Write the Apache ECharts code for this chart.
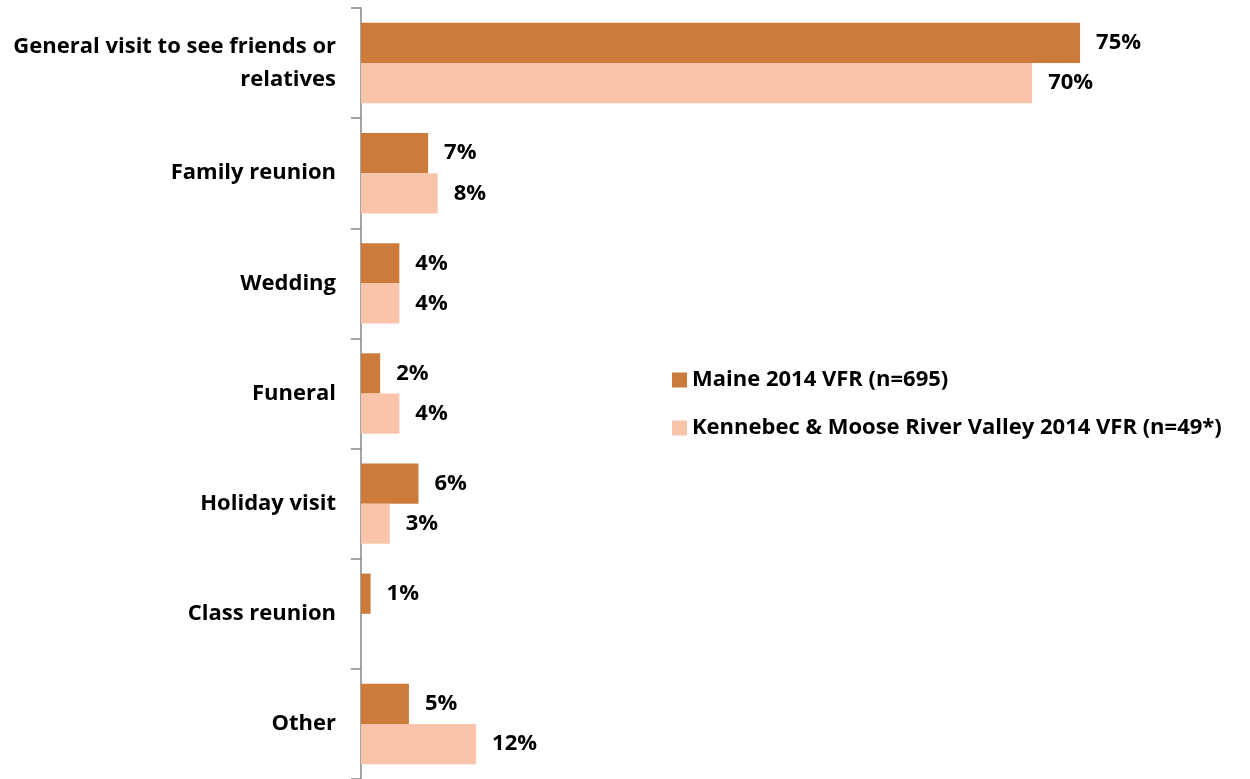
<!DOCTYPE html>
<html>
<head>
<meta charset="utf-8">
<script src="https://cdn.jsdelivr.net/npm/echarts@6/dist/echarts.min.js"></script>
<style>
  html, body { margin: 0; padding: 0; background: #fff; }
  #chart { width: 1250px; height: 779px; }
</style>
</head>
<body>
<div id="chart"></div>
<script>
// Reasons for visiting friends and relatives (share of VFR trips, %)
const categories = [
  'General visit to see friends or\nrelatives',
  'Family reunion',
  'Wedding',
  'Funeral',
  'Holiday visit',
  'Class reunion',
  'Other'
];
const maineValues = [75, 7, 4, 2, 6, 1, 5];
const kennebecValues = [70, 8, 4, 4, 3, null, 12];
const seriesNames = [
  'Maine 2014 VFR (n=695)',
  'Kennebec & Moose River Valley 2014 VFR (n=49*)'
];

const FONT = '"Open Sans", Lato, sans-serif';

const chart = echarts.init(document.getElementById('chart'));

const labelStyle = {
  show: true,
  position: 'right',
  distance: 16,
  formatter: p => p.value == null ? '' : p.value + '%',
  color: '#000',
  fontFamily: FONT,
  fontWeight: 'bold',
  fontSize: 22,
  padding: [9, 0, 0, 0]
};

chart.setOption({
  animation: false,
  grid: { left: 361, top: 8, width: 767, height: 772 },
  legend: {
    orient: 'vertical',
    left: 667,
    top: 364,
    itemWidth: 15,
    itemHeight: 15,
    itemGap: 26,
    icon: 'rect',
    textStyle: { fontFamily: FONT, fontWeight: 'bold', fontSize: 22, color: '#000' },
    data: seriesNames
  },
  xAxis: {
    type: 'value',
    min: 0,
    max: 80,
    show: false
  },
  yAxis: {
    type: 'category',
    inverse: true,
    data: categories,
    axisLine: { show: true, lineStyle: { color: '#868686', width: 1.5 } },
    axisTick: { show: true, length: 10, lineStyle: { color: '#868686', width: 1.5 } },
    axisLabel: {
      margin: 25,
      color: '#000',
      fontFamily: FONT,
      fontWeight: 'bold',
      fontSize: 22,
      lineHeight: 33,
      padding: [9, 0, 0, 0],
      align: 'right'
    }
  },
  series: [
    {
      name: seriesNames[0],
      type: 'bar',
      data: maineValues,
      barGap: '0%',
      barCategoryGap: '27%',
      itemStyle: { color: '#CD7B3B' },
      label: labelStyle
    },
    {
      name: seriesNames[1],
      type: 'bar',
      data: kennebecValues,
      itemStyle: { color: '#F9C4A9' },
      label: labelStyle
    }
  ]
});
</script>
</body>
</html>
